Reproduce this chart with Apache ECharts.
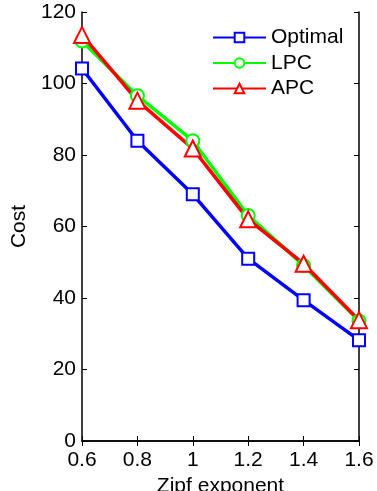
<!DOCTYPE html>
<html>
<head>
<meta charset="utf-8">
<script src="https://cdn.jsdelivr.net/npm/echarts@6/dist/echarts.min.js"></script>
<style>
  html, body { margin: 0; padding: 0; background: #fff; }
  #chart { width: 377px; height: 491px; }
</style>
</head>
<body>
<div id="chart"></div>
<script>
// zipf exponents on the x axis
const zipf = [0.6, 0.8, 1.0, 1.2, 1.4, 1.6];
// cost values
const optimal = [104.2, 84.0, 69.0, 51.0, 39.4, 28.2];
const lpc = [111.9, 96.6, 84.0, 63.1, 49.1, 33.6];
const apc = [113.6, 95.2, 81.8, 62.0, 49.6, 33.8];

const chart = echarts.init(document.getElementById('chart'));
const font = 'Liberation Sans, Arial, Helvetica, sans-serif';

const pairs = (ys) => zipf.map((x, i) => [x, ys[i]]);

const boxAxis = {
  axisLine: { show: true, lineStyle: { color: '#000', width: 1.5 } },
  axisTick: { show: true, inside: true, length: 5, lineStyle: { color: '#000', width: 1 } },
  splitLine: { show: false }
};

function lineSeries(name, ys, color, symbol, size) {
  return {
    name: name,
    type: 'line',
    data: pairs(ys),
    symbol: symbol,
    symbolSize: size,
    showAllSymbol: true,
    lineStyle: { color: color, width: 3.5 },
    itemStyle: { color: color, borderColor: color, borderWidth: 3 },
    emphasis: { disabled: true },
    animation: false
  };
}

const option = {
  backgroundColor: '#fff',
  grid: { left: 82, right: 18, top: 12, bottom: 50, containLabel: false, outerBoundsMode: 'none' },
  legend: {
    orient: 'vertical',
    left: 212,
    top: 27,
    padding: 0,
    itemWidth: 53,
    itemHeight: 12,
    itemGap: 4.5,
    textStyle: { fontFamily: font, fontSize: 21, lineHeight: 21, color: '#000', padding: [0, 0, 0, 0] },
    data: ['Optimal', 'LPC', 'APC']
  },
  xAxis: [
    Object.assign({}, boxAxis, {
      type: 'value',
      min: 0.6,
      max: 1.6,
      interval: 0.2,
      name: 'Zipf exponent',
      nameLocation: 'middle',
      nameGap: 33,
      nameTextStyle: { fontFamily: font, fontSize: 21, color: '#000' },
      axisLabel: {
        margin: 9,
        fontFamily: font,
        fontSize: 21,
        color: '#000',
        formatter: (v) => String(+v.toFixed(1))
      }
    }),
    Object.assign({}, boxAxis, {
      type: 'value', position: 'top', min: 0.6, max: 1.6, interval: 0.2,
      axisLabel: { show: false }
    })
  ],
  yAxis: [
    Object.assign({}, boxAxis, {
      type: 'value',
      min: 0,
      max: 120,
      interval: 20,
      name: 'Cost',
      nameLocation: 'middle',
      nameGap: 48,
      nameTextStyle: { fontFamily: font, fontSize: 21, color: '#000' },
      axisLabel: { margin: 6, fontFamily: font, fontSize: 21, color: '#000' }
    }),
    Object.assign({}, boxAxis, {
      type: 'value', position: 'right', min: 0, max: 120, interval: 20,
      axisLabel: { show: false }
    })
  ],
  series: [
    lineSeries('Optimal', optimal, '#0000ff', 'emptyRect', 12),
    lineSeries('LPC', lpc, '#00ff00', 'emptyCircle', 13),
    lineSeries('APC', apc, '#ff0000', 'emptyTriangle', 16)
  ]
};

chart.setOption(option);
window.addEventListener('resize', chart.resize);
</script>
</body>
</html>
